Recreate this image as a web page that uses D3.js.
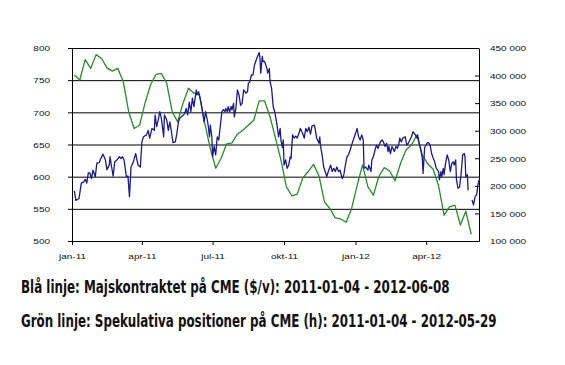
<!DOCTYPE html>
<html>
<head>
<meta charset="utf-8">
<script src="https://cdn.jsdelivr.net/npm/d3@7"></script>
<style>
  body { margin: 0; background: #fff; }
  svg { display: block; }
</style>
</head>
<body>
<div id="chart"></div>
<script>
// Blue: Majskontraktet (USD/bushel), [days since 2011-01-01, price]; null = gap
const blueSeries = [
  [3,578],[5,563],[9,566],[12,590],[15,592],[17,596],[19,590],[21,606],[23,606],[25,597],
  [27,610],[30,600],[32,621],[35,622],[37,628],[40,635],[43,626],[45,611],[48,618],[49,631],
  [51,615],[53,601],[55,623],[58,626],[61,631],[63,628],[65,631],[67,626],[70,600],[72,601],
  [74,569],[76,615],[79,623],[82,636],[85,618],[88,615],[90,654],[92,662],[96,665],[98,672],
  [100,660],[103,675],[106,672],[107,696],[109,678],[111,688],[113,701],[115,691],[118,662],[119,696],
  [122,688],[124,672],[126,685],[128,670],[130,653],[133,654],[135,667],[137,685],[139,691],[141,693],
  [145,698],[147,706],[149,696],[151,716],[153,701],[155,722],[157,709],[160,735],[161,727],[163,732],
  [166,716],[168,701],[170,685],[172,701],[175,683],[177,662],[178,680],[180,662],[181,631],[183,647],
  [185,634],[187,662],[189,657],[191,680],[193,701],[195,704],[197,701],[198,706],[200,701],[201,709],
  [203,701],[205,709],[206,704],[208,714],[209,693],[211,706],[213,735],[215,727],[217,711],[219,714],
  [221,735],[224,730],[226,732],[227,745],[229,748],[231,758],[233,758],[235,774],[237,781],[239,787],
  [241,793],[242,784],[243,761],[245,787],[246,779],[248,779],[251,768],[252,761],[254,768],[255,748],
  [257,737],[259,709],[261,701],[264,680],[266,662],[268,675],[269,657],[271,645],[272,657],[273,618],
  [275,626],[277,613],[279,618],[281,631],[282,628],[284,665],[286,660],[288,663],[290,660],[292,667],
  [294,675],[297,667],[299,660],[301,675],[303,670],[305,677],[307,666],[309,679],[312,680],[313,675],
  [315,660],[318,652],[319,662],[320,647],[322,634],[324,615],[326,608],[328,600],[330,608],[333,618],
  [335,608],[337,613],[339,608],[341,615],[343,608],[345,610],[348,597],[350,603],[352,618],[354,631],
  [356,634],[358,641],[360,649],[363,660],[365,667],[367,675],[369,662],[371,657],[373,665],[375,657],
  [376,613],[378,615],[381,610],[382,618],[385,608],[386,626],[388,631],[390,641],[392,649],[394,644],
  [397,654],[399,657],[401,654],[403,647],[405,652],[407,639],[408,647],[410,636],[412,647],[415,639],
  [417,647],[419,644],[421,652],[422,660],[424,654],[426,660],[429,662],[431,649],[433,652],[435,657],
  [437,662],[439,670],[442,665],[444,660],[445,665],[447,652],[449,642],[451,629],[452,605],[454,645],
  [457,652],[459,653],[461,649],[463,636],[465,629],[467,623],[469,613],[472,608],[473,595],[475,608],
  [476,600],[478,613],[479,603],[481,621],[483,634],[485,626],[487,608],[489,621],[491,623],[492,618],
  [494,626],[495,595],[497,582],[499,584],[501,605],[503,634],[505,636],[506,631],[507,600],[509,603],
  [510,579],[512,null],[515,564],[517,556],[519,569],[521,572],[523,590],[524,595]
];

// Green: Spekulativa positioner (kontrakt), weekly from 2011-01-04
const greenStart = "2011-01-04";
const greenValues = [
  401000, 392000, 429000, 413000, 438000, 431000, 414000, 408000, 413000, 389000,
  334000, 304000, 310000, 350000, 383000, 402000, 404000, 386000, 334000, 316000,
  350000, 377000, 368000, 365000, 313000, 268000, 232000, 250000, 276000, 278000,
  294000, 301000, 310000, 319000, 354000, 354000, 325000, 286000, 247000, 198000,
  182000, 185000, 214000, 226000, 239000, 218000, 171000, 159000, 142000, 140000,
  134000, 159000, 200000, 238000, 198000, 183000, 217000, 233000, 227000, 209000,
  241000, 265000, 274000, 292000, 256000, 240000, 230000, 200000, 147000, 162000,
  165000, 129000, 154000, 112000
];

const leftTicks = [500, 550, 600, 650, 700, 750, 800];
const rightTicks = [100000, 150000, 200000, 250000, 300000, 350000, 400000, 450000];
const xTickDates = ["2011-01-01", "2011-04-01", "2011-07-01", "2011-10-01", "2012-01-01", "2012-04-01"];
const xTickLabels = ["jan-11", "apr-11", "jul-11", "okt-11", "jan-12", "apr-12"];

const captions = [
  "Blå linje: Majskontraktet på CME ($/v): 2011-01-04 - 2012-06-08",
  "Grön linje: Spekulativa positioner på CME (h): 2011-01-04 - 2012-05-29"
];

const W = 565, H = 365;
const plot = { left: 72, right: 479, top: 48, bottom: 241 };
const parse = d3.timeParse("%Y-%m-%d");
const origin = parse("2011-01-01");

const svg = d3.select("#chart").append("svg")
  .attr("width", W).attr("height", H)
  .style("font-family", "'Liberation Sans', Arial, sans-serif");

const x = d3.scaleTime()
  .domain([origin, parse("2012-06-08")])
  .range([plot.left, plot.right]);
const yL = d3.scaleLinear().domain([500, 800]).range([plot.bottom, plot.top]);
const yR = d3.scaleLinear().domain([100000, 450000]).range([plot.bottom, plot.top]);

const fmt = d3.formatLocale({ decimal: ",", thousands: " ", grouping: [3], currency: ["", ""] }).format(",");

// left axis with gridlines
const gL = svg.append("g")
  .attr("transform", `translate(${plot.left},0)`)
  .call(d3.axisLeft(yL).tickValues(leftTicks).tickSizeInner(-(plot.right - plot.left)).tickSizeOuter(0).tickPadding(22));
gL.select(".domain").attr("stroke", "#000");
gL.selectAll(".tick line").attr("x1", -4).attr("stroke", "#000").attr("stroke-width", 1);
gL.selectAll(".tick text")
  .attr("x", -22).attr("y", 0).attr("dy", 0)
  .attr("transform", "translate(0,2.8) scale(1,0.75)")
  .style("font-size", "10px").attr("fill", "#111");

// right axis
const gR = svg.append("g")
  .attr("transform", `translate(${plot.right},0)`)
  .call(d3.axisRight(yR).tickValues(rightTicks).tickFormat(fmt).tickSizeInner(-4).tickSizeOuter(0).tickPadding(11));
gR.select(".domain").attr("stroke", "#000");
gR.selectAll(".tick line").attr("stroke", "#000");
gR.selectAll(".tick text")
  .attr("x", 11).attr("y", 0).attr("dy", 0)
  .attr("transform", "translate(0,2.8) scale(1,0.75)")
  .style("font-size", "10px").attr("fill", "#111");

// bottom axis
const gB = svg.append("g")
  .attr("transform", `translate(0,${plot.bottom})`)
  .call(d3.axisBottom(x).tickValues(xTickDates.map(parse))
    .tickFormat((d, i) => xTickLabels[i]).tickSizeInner(4).tickSizeOuter(0));
gB.select(".domain").attr("stroke", "#000");
gB.selectAll(".tick line").attr("stroke", "#000");
gB.selectAll(".tick text")
  .attr("y", 0).attr("dy", 0)
  .attr("transform", "translate(0,17.5) scale(1,0.75)")
  .style("font-size", "10px").attr("fill", "#111");

// green line (right axis)
const greenData = greenValues.map((v, i) => ({ date: d3.timeWeek.offset(parse(greenStart), i), value: v }));
svg.append("path")
  .datum(greenData)
  .attr("fill", "none")
  .attr("stroke", "#2b8a2b")
  .attr("stroke-width", 1.3)
  .attr("stroke-linejoin", "round")
  .attr("d", d3.line().x(d => x(d.date)).y(d => yR(d.value)));

// blue line (left axis)
const blueData = blueSeries.map(d => ({ date: d3.timeDay.offset(origin, d[0]), value: d[1] }));
svg.append("path")
  .datum(blueData)
  .attr("fill", "none")
  .attr("stroke", "#1a1a8a")
  .attr("stroke-width", 1.3)
  .attr("stroke-linejoin", "round")
  .attr("d", d3.line().defined(d => d.value != null).x(d => x(d.date)).y(d => yL(d.value)));

// captions: condensed bold, squeezed horizontally to the reference width
const capWidths = [429, 476];
const capY = [293, 327];
captions.forEach((t, i) => {
  const txt = svg.append("text")
    .attr("x", 0).attr("y", 0)
    .style("font-family", "'DejaVu Sans Condensed', 'Liberation Sans Narrow', sans-serif")
    .style("font-weight", "bold")
    .style("font-size", "17px")
    .attr("fill", "#111")
    .text(t);
  const w = txt.node().getComputedTextLength();
  txt.attr("transform", `translate(21,${capY[i]}) scale(${capWidths[i] / w},1)`);
});
</script>
</body>
</html>
